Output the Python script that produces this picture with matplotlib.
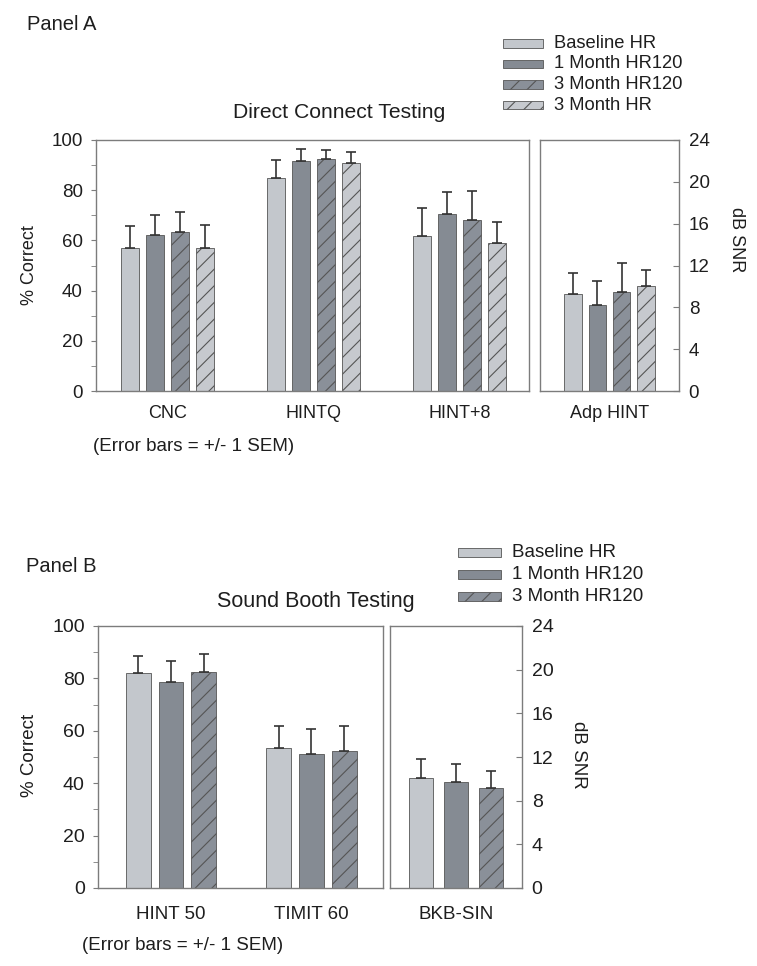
import numpy as np
import matplotlib
matplotlib.use("Agg")
import matplotlib.pyplot as plt
from matplotlib.patches import Rectangle

plt.rcParams['font.family'] = ['Liberation Sans', 'DejaVu Sans']
plt.rcParams['hatch.linewidth'] = 0.8

# ---------------- data ----------------
series_a = ["Baseline HR", "1 Month HR120", "3 Month HR120", "3 Month HR"]
series_b = ["Baseline HR", "1 Month HR120", "3 Month HR120"]

cats_a_pct = ["CNC", "HINTQ", "HINT+8"]
vals_a_pct = [[56.9, 84.8, 61.7],   # Baseline HR
              [62.3, 91.6, 70.4],   # 1 Month HR120
              [63.3, 92.5, 68.1],   # 3 Month HR120
              [57.1, 90.9, 58.9]]   # 3 Month HR
sem_a_pct = [[8.7, 7.1, 11.1],
             [7.7, 4.9, 8.9],
             [8.0, 3.6, 11.6],
             [9.0, 4.4, 8.4]]

cats_a_snr = ["Adp HINT"]
vals_a_snr = [[9.3], [8.2], [9.5], [10.0]]
sem_a_snr = [[2.0], [2.3], [2.7], [1.6]]

cats_b_pct = ["HINT 50", "TIMIT 60"]
vals_b_pct = [[81.9, 53.3],
              [78.7, 51.3],
              [82.6, 52.3]]
sem_b_pct = [[6.7, 8.6],
             [8.0, 9.2],
             [6.7, 9.6]]

cats_b_snr = ["BKB-SIN"]
vals_b_snr = [[10.1], [9.7], [9.2]]
sem_b_snr = [[1.7], [1.7], [1.5]]

pct_ticks = [0, 20, 40, 60, 80, 100]
snr_ticks = [0, 4, 8, 12, 16, 20, 24]

# ---------------- style ----------------
fills = ["#c3c7cc", "#858b93", "#8a9099", "#c6c9ce"]
hatches = [None, None, "//", "//"]
edge = "#555555"
spine_col = "#7c7c7c"
txt = "#1e1e1e"
err_col = "#333333"

W, H = 757, 966
fig = plt.figure(figsize=(W / 100, H / 100), dpi=100)


def fx(px):
    return px / W


def fy(py):
    return 1 - py / H


def add_axes(x0, y0, x1, y1):
    return fig.add_axes([fx(x0), fy(y1), fx(x1 - x0), (y1 - y0) / H])


def draw_bars(ax, cats, vals, sems, width, spacing, fs):
    n = len(vals)
    x = np.arange(len(cats))
    for i in range(n):
        pos = x + (i - (n - 1) / 2) * spacing
        ax.bar(pos, vals[i], width, color=fills[i], edgecolor=edge,
               linewidth=0.6, hatch=hatches[i], zorder=2)
        ax.errorbar(pos, vals[i], yerr=[np.zeros(len(cats)), sems[i]],
                    fmt="none", ecolor=err_col, elinewidth=1.2,
                    capsize=3.5, capthick=1.2, zorder=3)
    ax.set_xticks(x)
    ax.set_xticklabels(cats, fontsize=fs, color=txt)
    ax.tick_params(axis="x", length=0)
    for s in ax.spines.values():
        s.set_color(spine_col)
        s.set_linewidth(1.0)


def style_left(ax, ticks, fs):
    ax.set_ylim(0, 100)
    ax.set_yticks(ticks)
    ax.yaxis.set_minor_locator(matplotlib.ticker.MultipleLocator(10))
    ax.tick_params(axis="y", which="both", direction="out", length=3.5,
                   color=spine_col, labelsize=fs, labelcolor=txt, pad=6)


def style_right(ax, ticks, fs):
    ax.set_ylim(0, 24)
    ax.set_yticks(ticks)
    ax.yaxis.tick_right()
    ax.tick_params(axis="y", direction="in", length=4, color=spine_col,
                   labelsize=fs, labelcolor=txt, pad=7)


# ---------------- Panel A ----------------
axA1 = add_axes(96, 140, 529, 391)
draw_bars(axA1, cats_a_pct, vals_a_pct, sem_a_pct, 0.121, 0.172, 13)
axA1.set_xlim(-0.49, 2.475)
style_left(axA1, pct_ticks, 13.5)
axA1.tick_params(axis="x", pad=10)

axA2 = add_axes(540, 140, 679, 391)
draw_bars(axA2, cats_a_snr, vals_a_snr, sem_a_snr, 0.119, 0.167, 13)
axA2.set_xlim(-0.476, 0.476)
style_right(axA2, snr_ticks, 13.5)
axA2.tick_params(axis="x", pad=10)

fig.text(fx(27), fy(25), "Panel A", fontsize=14.5, color=txt, ha="left", va="center")
fig.text(fx(233), fy(112), "Direct Connect Testing", fontsize=15.2, color=txt,
         ha="left", va="center")
fig.text(fx(30), fy(265), "% Correct", fontsize=13, color=txt, rotation=90,
         ha="center", va="center")
fig.text(fx(736), fy(240), "dB SNR", fontsize=13, color=txt, rotation=270,
         ha="center", va="center")
fig.text(fx(93), fy(447), "(Error bars = +/- 1 SEM)", fontsize=13.5, color=txt,
         ha="left", va="center")

rows_a = [43.5, 64, 84.5, 105]
for i, lab in enumerate(series_a):
    fig.add_artist(Rectangle((fx(503), fy(rows_a[i] + 4)), fx(40), 8 / H,
                             transform=fig.transFigure, facecolor=fills[i],
                             edgecolor=edge, linewidth=0.6, hatch=hatches[i]))
    fig.text(fx(554), fy(rows_a[i]), lab, fontsize=13.2, color=txt,
             ha="left", va="center")

# ---------------- Panel B ----------------
axB1 = add_axes(98, 626, 383, 888)
draw_bars(axB1, cats_b_pct, vals_b_pct, sem_b_pct, 0.177, 0.233, 13.5)
axB1.set_xlim(-0.52, 1.51)
style_left(axB1, pct_ticks, 14)
axB1.tick_params(axis="x", pad=13)

axB2 = add_axes(390, 626, 522, 888)
draw_bars(axB2, cats_b_snr, vals_b_snr, sem_b_snr, 0.189, 0.265, 13.5)
axB2.set_xlim(-0.5, 0.5)
style_right(axB2, snr_ticks, 14)
axB2.tick_params(axis="x", pad=13)

fig.text(fx(26), fy(567), "Panel B", fontsize=14.5, color=txt, ha="left", va="center")
fig.text(fx(217), fy(602), "Sound Booth Testing", fontsize=15.5, color=txt,
         ha="left", va="center")
fig.text(fx(30), fy(755), "% Correct", fontsize=13.5, color=txt, rotation=90,
         ha="center", va="center")
fig.text(fx(578), fy(755), "dB SNR", fontsize=13.5, color=txt, rotation=270,
         ha="center", va="center")
fig.text(fx(82), fy(946), "(Error bars = +/- 1 SEM)", fontsize=13.5, color=txt,
         ha="left", va="center")

rows_b = [552.5, 574.5, 596.5]
for i, lab in enumerate(series_b):
    fig.add_artist(Rectangle((fx(458), fy(rows_b[i] + 4.5)), fx(43), 9 / H,
                             transform=fig.transFigure, facecolor=fills[i],
                             edgecolor=edge, linewidth=0.6, hatch=hatches[i]))
    fig.text(fx(512), fy(rows_b[i]), lab, fontsize=13.5, color=txt,
             ha="left", va="center")

fig.savefig("out.png", dpi=100)
